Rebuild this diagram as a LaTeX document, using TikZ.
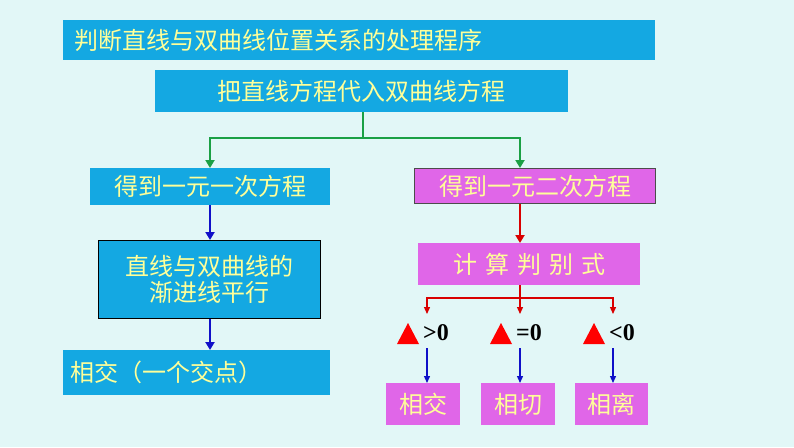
\documentclass[tikz,border=0pt]{standalone}
\usepackage{fontspec}
\newfontfamily\cjk{Noto Sans CJK SC}
\newfontfamily\ser{Liberation Serif}
\usetikzlibrary{arrows.meta,calc}
\definecolor{bg}{HTML}{E2F7F7}
\definecolor{cy}{HTML}{14A8E2}
\definecolor{mg}{HTML}{E066E8}
\definecolor{ty}{HTML}{FFFF99}
\definecolor{gr}{HTML}{1BA045}
\definecolor{bl}{HTML}{1010C8}
\begin{document}
\begin{tikzpicture}[x=1pt,y=-1pt,
  box/.style={inner sep=0pt,font=\cjk\fontsize{24}{28}\selectfont,text=ty,anchor=north west},
  cbox/.style={box,fill=cy},
  mbox/.style={box,fill=mg},
  garr/.style={draw=gr,line width=2.5pt,-{Triangle[length=8pt,width=9pt]}},
  rarr/.style={draw=red!85!black,line width=2.5pt,-{Triangle[length=8pt,width=9pt]}},
  rthin/.style={draw=red!85!black,line width=1.3pt},
  barr/.style={draw=bl,line width=2.5pt,-{Triangle[length=8pt,width=9pt]}},
  bthin/.style={draw=bl,line width=1.3pt,-{Triangle[length=7pt,width=6pt]}},
  lab/.style={font=\ser\bfseries\fontsize{24}{28}\selectfont,inner sep=0pt}]
\fill[bg] (0,0) rectangle (794,447);
\useasboundingbox (0,0) rectangle (794,447);
\node[cbox,minimum width=592pt,minimum height=40pt,text width=582pt,align=left] (t) at (63,20) {\hspace*{6pt}判断直线与双曲线位置关系的处理程序};
\node[cbox,minimum width=413pt,minimum height=42pt] (s) at (155,70) {把直线方程代入双曲线方程};
\node[cbox,minimum width=240pt,minimum height=37pt] (a1) at (90,168) {得到一元一次方程};
\node[mbox,draw=black!70,line width=1pt,minimum width=241pt,minimum height=35pt] (a2) at (414,168) {得到一元二次方程};
\node[cbox,draw=black,line width=0.8pt,minimum width=222pt,minimum height=78pt,align=center] (b1) at (98,240) {直线与双曲线的\\[-2pt]渐进线平行};
\node[cbox,minimum width=267pt,minimum height=45pt,text width=257pt,align=left] (c1) at (63,350) {\hspace*{2pt}相交（一个交点）};
\node[mbox,minimum width=222pt,minimum height=42pt] (b2) at (418,243) {计\,\,算\,\,判\,\,别\,\,式};
\node[mbox,minimum width=74pt,minimum height=42pt] (d1) at (386,383) {相交};
\node[mbox,minimum width=74pt,minimum height=42pt] (d2) at (481,383) {相切};
\node[mbox,minimum width=73pt,minimum height=42pt] (d3) at (575,383) {相离};
\foreach \n/\x/\s in {l1/427/>,l2/520/=,l3/613/<}{
  \node[lab,anchor=west] (\n) at (\x-4,333) {\s0};
  \fill[red] ($(\n.west)+(-26,11)$) -- ++(22,0) -- ++(-11,-21) -- cycle;
}
\coordinate (g) at (363,138);
\draw[draw=gr,line width=2.5pt] (s.south -| g) -- (g);
\draw[garr] (g) -| (a1.north -| 210,0);
\draw[garr] (g) -| (a2.north -| 520,0);
\draw[barr] (a1.south -| 210,0) -- (b1.north -| 210,0);
\draw[barr] (b1.south -| 210,0) -- (c1.north -| 210,0);
\draw[rarr] (a2.south -| 520,0) -- (b2.north -| 520,0);
\coordinate (r) at (520,298);
\draw[rthin] (b2.south -| r) -- (r);
\foreach \x in {427,520,613}{
  \draw[rthin,-{Triangle[length=7pt,width=6pt]}] (r) -| (\x,314);
}
\foreach \x/\d in {427/d1,520/d2,613/d3}{
  \draw[bthin] (\x,348) -- (\d.north -| \x,0);
}
\end{tikzpicture}
\end{document}
